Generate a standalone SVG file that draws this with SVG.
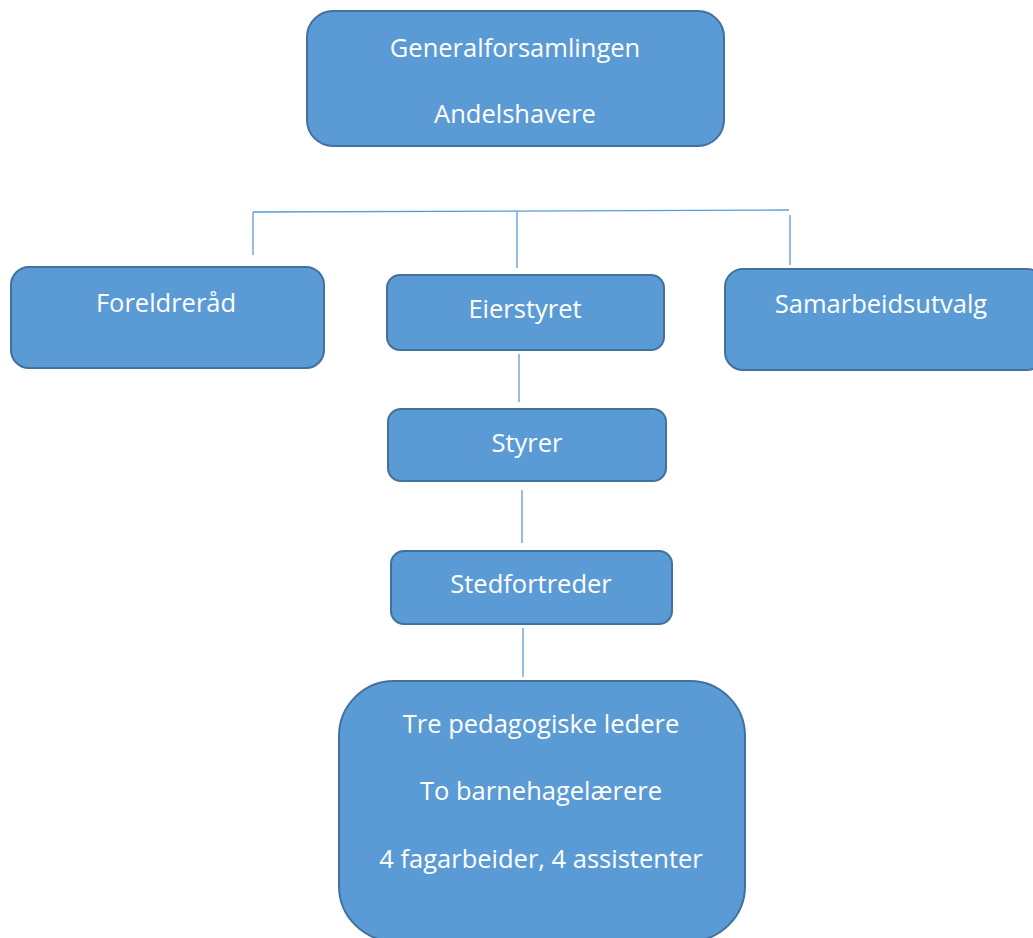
<svg xmlns="http://www.w3.org/2000/svg" width="1033" height="938" viewBox="0 0 1033 938">
<style>
.box{fill:#5B9BD5;stroke:#41719C;stroke-width:2}
.lbl{font-family:"Open Sans","Noto Sans","Liberation Sans",sans-serif;font-size:25.5px;fill:#FFFFFF;text-anchor:middle}
.conn{stroke:#5B9BD5;stroke-width:1.3;fill:none}
</style>
<rect width="1033" height="938" fill="#FFFFFF"/>
<g id="connectors">
<path class="conn" d="M253 212 L789 210"/>
<path class="conn" d="M253 212 L253 255"/>
<path class="conn" d="M517 211 L517 268"/>
<path class="conn" d="M790 215 L790 265"/>
<path class="conn" d="M519 354 L519 402"/>
<path class="conn" d="M522 490 L522 543"/>
<path class="conn" d="M523 628 L523 677"/>
</g>
<g id="generalforsamlingen">
<rect class="box" x="307" y="11" width="417" height="135" rx="26"/>
<text class="lbl" x="515" y="57">Generalforsamlingen</text>
<text class="lbl" x="515" y="123">Andelshavere</text>
</g>
<g id="foreldrerad">
<rect class="box" x="11" y="267" width="313" height="101" rx="18"/>
<text class="lbl" x="166" y="312">Foreldreråd</text>
</g>
<g id="eierstyret">
<rect class="box" x="387" y="275" width="277" height="75" rx="13"/>
<text class="lbl" x="525" y="318">Eierstyret</text>
</g>
<g id="samarbeidsutvalg">
<rect class="box" x="725" y="269" width="320" height="101" rx="18"/>
<text class="lbl" x="881" y="313">Samarbeidsutvalg</text>
</g>
<g id="styrer">
<rect class="box" x="388" y="409" width="278" height="72" rx="13"/>
<text class="lbl" x="527" y="452">Styrer</text>
</g>
<g id="stedfortreder">
<rect class="box" x="391" y="551" width="281" height="73" rx="13"/>
<text class="lbl" x="531" y="593">Stedfortreder</text>
</g>
<g id="ansatte">
<rect class="box" x="339" y="681" width="406" height="260" rx="55"/>
<text class="lbl" x="541" y="733">Tre pedagogiske ledere</text>
<text class="lbl" x="541" y="800">To barnehagelærere</text>
<text class="lbl" x="541" y="868">4 fagarbeider, 4 assistenter</text>
</g>
</svg>
